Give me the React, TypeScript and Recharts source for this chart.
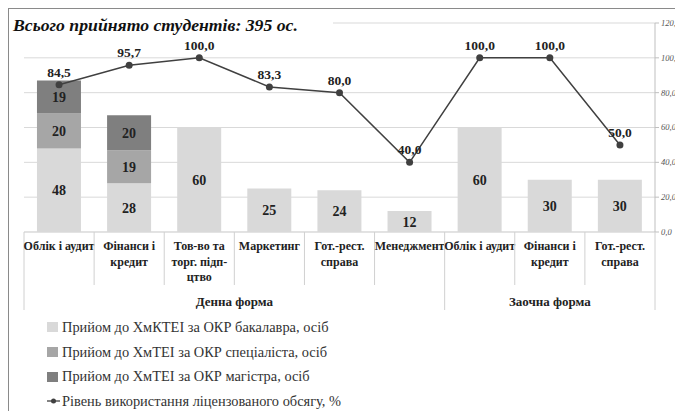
import { ComposedChart, Bar, Line, XAxis, YAxis, CartesianGrid, LabelList, Legend } from 'recharts'

const categories = [
  'Облік і аудит',
  'Фінанси і\nкредит',
  'Тов-во та\nторг. підп-\nцтво',
  'Маркетинг',
  'Гот.-рест.\nсправа',
  'Менеджмент',
  'Облік і аудит',
  'Фінанси і\nкредит',
  'Гот.-рест.\nсправа',
]
const groups = ['Денна форма', 'Заочна форма']
const groupOf = [0, 0, 0, 0, 0, 0, 1, 1, 1]

const bachelor = [48, 28, 60, 25, 24, 12, 60, 30, 30]
const specialist = [20, 19, 0, 0, 0, 0, 0, 0, 0]
const master = [19, 20, 0, 0, 0, 0, 0, 0, 0]
const usage = [84.5, 95.7, 100, 83.3, 80, 40, 100, 100, 50]

const seriesNames = [
  'Прийом до ХмКТЕІ за ОКР бакалавра, осіб',
  'Прийом до ХмТЕІ за ОКР спеціаліста, осіб',
  'Прийом до ХмТЕІ за ОКР магістра, осіб',
  'Рівень використання ліцензованого обсягу, %',
]
const rightTicks = [0, 20, 40, 60, 80, 100, 120]
const gridTicks = [0, 10, 20, 30, 40, 50, 60, 70, 80, 90, 100, 110, 120]
const title = 'Всього прийнято студентів: 395 ос.'

const data = categories.map((name, i) => ({
  name,
  bachelor: bachelor[i],
  specialist: specialist[i],
  master: master[i],
  usage: usage[i],
}))

const W = 675
const H = 411
const M_LEFT = 24
const RIGHT_AXIS_W = 20
const BAND = (W - M_LEFT - RIGHT_AXIS_W) / categories.length
const SERIF = 'Liberation Serif'
const SEP = '#d0d0d0'

const fmt = (v: number) => v.toFixed(1).replace('.', ',')

function CategoryTick(props: any) {
  const { x, y, index } = props
  const lines = categories[index].split('\n')
  const half = BAND / 2
  const startsGroup = index === 0 || groupOf[index] !== groupOf[index - 1]
  const isLast = index === categories.length - 1
  const members = groupOf.map((g, i) => (g === groupOf[index] ? i : -1)).filter((i) => i >= 0)
  const groupCenter = x + ((members[members.length - 1] - members[0]) / 2) * BAND
  return (
    <g style={{ fontFamily: SERIF }}>
      <line x1={x - half} x2={x - half} y1={y} y2={y + (startsGroup ? 78 : 53)} stroke={SEP} />
      {isLast && <line x1={x + half} x2={x + half} y1={y} y2={y + 78} stroke={SEP} />}
      {lines.map((l, k) => (
        <text key={k} x={x} y={y + 18 + k * 15.5} textAnchor="middle" style={{ fontFamily: SERIF, fontWeight: 700, fontSize: 12 }} fill="#222">
          {l}
        </text>
      ))}
      {startsGroup && (
        <text x={groupCenter} y={y + 74} textAnchor="middle" style={{ fontFamily: SERIF, fontWeight: 700, fontSize: 13 }} fill="#222">
          {groups[groupOf[index]]}
        </text>
      )}
    </g>
  )
}

function RightTick(props: any) {
  const { x, y, payload } = props
  return (
    <text x={x} y={y} dy="0.35em" style={{ fontFamily: SERIF, fontStyle: 'italic', fontSize: 8.5 }} fill="#555">
      {fmt(payload.value)}
    </text>
  )
}

function BarValue(props: any) {
  const { x, y, width, height, value } = props
  if (!value) return null
  return (
    <text x={x + width / 2} y={y + height / 2} dy="0.36em" textAnchor="middle" style={{ fontFamily: SERIF, fontWeight: 700, fontSize: 14 }} fill="#222">
      {value}
    </text>
  )
}

function LegendBox(props: any) {
  const payload = [...(props.payload || [])].sort(
    (a: any, b: any) => seriesNames.indexOf(a.value) - seriesNames.indexOf(b.value),
  )
  return (
    <div style={{ fontFamily: SERIF, fontSize: 14.4, color: '#333' }}>
      {payload.map((p: any, i: number) => (
        <div key={i} style={{ height: 24.7, display: 'flex', alignItems: 'center', whiteSpace: 'nowrap' }}>
          {p.type === 'line' ? (
            <svg width={13} height={10} style={{ marginRight: 2 }}>
              <line x1={0} x2={13} y1={5} y2={5} stroke={p.color} strokeWidth={1.3} />
              <circle cx={6.5} cy={5} r={2.5} fill={p.color} />
            </svg>
          ) : (
            <span style={{ display: 'inline-block', width: 11, height: 10, background: p.color, marginRight: 4 }} />
          )}
          {p.value}
        </div>
      ))}
    </div>
  )
}

export default function App() {
  return (
    <div style={{ position: 'absolute', left: 0, top: 0, width: W, height: H, background: '#fff', overflow: 'hidden', fontFamily: SERIF }}>
      <div style={{ position: 'absolute', left: 8, top: 8, width: W, height: H, borderLeft: '1px solid #8a8a8a', borderTop: '1px solid #8a8a8a' }} />
      <ComposedChart width={W} height={H} data={data} margin={{ top: 23, right: 0, left: M_LEFT, bottom: 0 }} barCategoryGap="18.5%">
        <CartesianGrid yAxisId="left" vertical={false} stroke="#d9d9d9" />
        <XAxis dataKey="name" height={179} tick={<CategoryTick />} tickLine={false} tickSize={0} tickMargin={0} axisLine={{ stroke: '#d9d9d9' }} interval={0} />
        <YAxis yAxisId="left" hide domain={[0, 120]} ticks={gridTicks} />
        <YAxis
          yAxisId="right"
          orientation="right"
          width={RIGHT_AXIS_W}
          domain={[0, 120]}
          ticks={rightTicks}
          tick={<RightTick />}
          tickSize={4}
          tickMargin={2}
          axisLine={{ stroke: '#bfbfbf' }}
          tickLine={{ stroke: '#bfbfbf' }}
        />
        <Legend
          layout="vertical"
          align="center"
          verticalAlign="middle"
          wrapperStyle={{ left: 47, top: 315, width: 420 }}
          content={<LegendBox />}
        />
        <Bar yAxisId="left" dataKey="bachelor" name={seriesNames[0]} stackId="a" fill="#d9d9d9" isAnimationActive={false}>
          <LabelList dataKey="bachelor" content={<BarValue />} />
        </Bar>
        <Bar yAxisId="left" dataKey="specialist" name={seriesNames[1]} stackId="a" fill="#a6a6a6" isAnimationActive={false}>
          <LabelList dataKey="specialist" content={<BarValue />} />
        </Bar>
        <Bar yAxisId="left" dataKey="master" name={seriesNames[2]} stackId="a" fill="#7f7f7f" isAnimationActive={false}>
          <LabelList dataKey="master" content={<BarValue />} />
        </Bar>
        <Line
          yAxisId="right"
          dataKey="usage"
          name={seriesNames[3]}
          stroke="#404040"
          strokeWidth={1.5}
          dot={{ r: 3.5, fill: '#404040', stroke: '#404040', strokeWidth: 0 }}
          activeDot={false}
          legendType="line"
          isAnimationActive={false}
        >
          <LabelList
            dataKey="usage"
            position="top"
            offset={8}
            formatter={(v: any) => fmt(Number(v))}
            style={{ fontFamily: SERIF, fontWeight: 700, fontSize: 13.5, fill: '#222' }}
          />
        </Line>
      </ComposedChart>
      <div
        style={{
          position: 'absolute',
          left: 10,
          top: 12,
          width: 320,
          height: 26,
          background: '#fff',
          fontFamily: SERIF,
          fontWeight: 'bold',
          fontStyle: 'italic',
          fontSize: 17.7,
          lineHeight: '26px',
          paddingLeft: 3,
          color: '#111',
          whiteSpace: 'nowrap',
        }}
      >
        {title}
      </div>
    </div>
  )
}
